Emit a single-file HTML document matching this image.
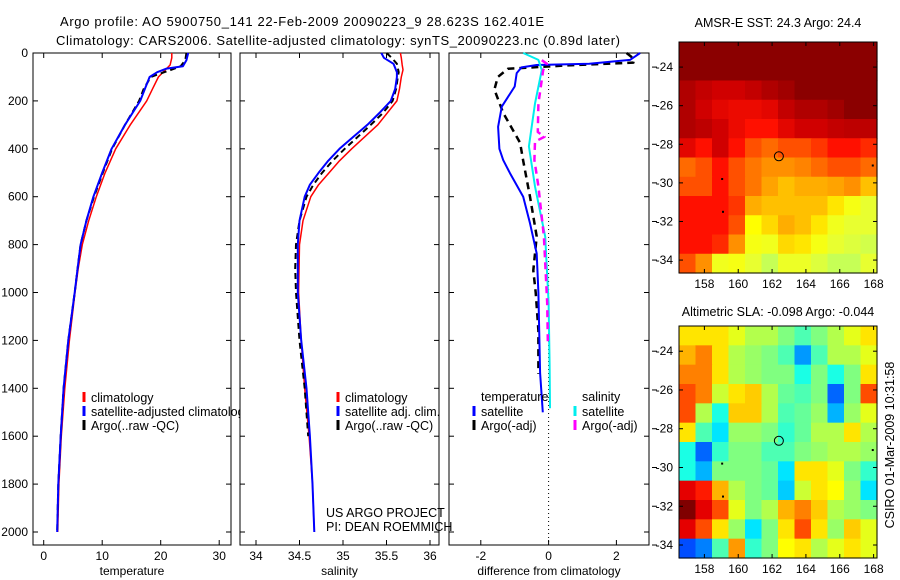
<!DOCTYPE html>
<html><head><meta charset="utf-8"><title>Argo profile</title>
<style>
html,body{margin:0;padding:0;background:#fff;}
svg{display:block;font-family:"Liberation Sans",sans-serif;}
text{font-family:"Liberation Sans",sans-serif;fill:#000;}
</style></head>
<body>
<svg id="fig" width="900" height="580" viewBox="0 0 900 580" xmlns="http://www.w3.org/2000/svg">
<rect x="0" y="0" width="900" height="580" fill="#fff"/>
<text x="60" y="26" font-size="13" textLength="484">Argo profile: AO 5900750_141 22-Feb-2009 20090223_9 28.623S 162.401E</text>
<text x="56" y="45" font-size="13" textLength="564">Climatology: CARS2006. Satellite-adjusted climatology: synTS_20090223.nc (0.89d later)</text>
<g id="layer"></g>
</svg>
<script>
// ---------- depth profile data ----------
var tClimDepth = [0,20,50,75,100,150,200,300,400,500,600,700,800,900,1000,1200,1400,1600,1800,2000];
var tClim      = [21.9,21.9,21.6,20.6,19.6,18.6,17.6,14.8,12.3,10.5,9.0,7.7,6.6,5.9,5.35,4.4,3.6,3.0,2.6,2.4];
var tSatDepth  = [0,30,55,65,80,100,150,200,300,400,500,600,700,800,900,1000,1200,1400,1600,1800,2000];
var tSat       = [24.7,24.4,23.8,21.0,19.4,18.1,17.3,16.5,13.9,11.6,10.0,8.5,7.3,6.3,5.8,5.3,4.2,3.4,2.9,2.5,2.3];
var tArgoDepth = [0,30,55,70,90,100,150,200,300,400,500,600,700,800,900,1000,1200,1400,1600,1800,2000];
var tArgo      = [24.4,24.2,23.4,21.8,19.4,18.3,17.1,16.3,13.9,11.7,10.1,8.6,7.3,6.3,5.8,5.3,4.2,3.4,2.9,2.5,2.3];

var sClimDepth = [0,20,50,70,100,150,200,300,400,450,500,550,600,700,800,1000,1200,1400,1600,1800,2000];
var sClim      = [35.66,35.67,35.68,35.69,35.67,35.65,35.62,35.40,35.10,34.96,34.84,34.72,34.63,34.54,34.50,34.49,34.52,34.56,34.61,34.65,34.67];
var sSatDepth  = [0,20,45,80,100,150,200,250,300,350,400,450,500,550,600,700,800,1000,1200,1400,1600,1800,2000];
var sSat       = [35.44,35.47,35.58,35.62,35.62,35.60,35.55,35.42,35.28,35.12,34.96,34.83,34.72,34.62,34.56,34.50,34.48,34.48,34.52,34.58,34.62,34.65,34.67];
var sArgoDepth = [0,20,45,80,100,150,200,250,300,350,400,450,500,550,600,700,800,900,1000,1200,1400,1600];
var sArgo      = [35.50,35.56,35.62,35.64,35.63,35.61,35.57,35.46,35.32,35.17,35.02,34.88,34.76,34.66,34.58,34.50,34.46,34.45,34.46,34.50,34.56,34.60];

var dTSatDepth = [0,29,45,50,60,84,140,224,308,400,447,502,600,711,837,1000,1200,1336,1500];
var dTSat      = [2.7,2.4,1.2,-0.35,-0.8,-0.94,-1.0,-1.38,-1.49,-1.45,-1.34,-1.14,-0.75,-0.55,-0.35,-0.3,-0.27,-0.25,-0.17];
var dTArgoDepth= [0,23,40,52,66,100,153,250,375,450,600,766,908,1000,1159,1340];
var dTArgo     = [2.3,2.5,2.5,0.5,-1.2,-1.5,-1.6,-1.34,-0.84,-0.75,-0.55,-0.35,-0.45,-0.38,-0.3,-0.3];
var dSSatDepth = [0,29,71,211,390,557,766,1044,1300,1483];
var dSSat      = [-0.75,-0.3,-0.2,-0.4,-0.58,-0.4,-0.1,0.0,0.03,0.04];
var dSArgoDepth= [30,45,71,211,330,350,370,447,557,766,1044,1220];
var dSArgo     = [-0.2,-0.05,-0.16,-0.3,-0.32,-0.12,-0.4,-0.42,-0.3,-0.14,-0.04,-0.02];

var depthTicks = [0,200,400,600,800,1000,1200,1400,1600,1800,2000];
var tTicks = [0,10,20,30];
var sTicks = [34,34.5,35,35.5,36];
var sTickLabels = ["34","34.5","35","35.5","36"];
var dTicks = [-2,0,2];

// ---------- map data ----------
var lonTicks = [158,160,162,164,166,168];
var latTicks = [-24,-26,-28,-30,-32,-34];
// SST level grid (rows lat -23..-34, cols lon 157..168); higher = hotter colour
var sstGrid = [
 [5,5,5,5,5,5,5,5,5,5,5,5],
 [5,5,5,5,5,5,5,5,5,5,5,5],
 [4.5,4.2,4,4,4.2,4.5,4.7,5,5,5,5,5],
 [4.5,4,3.8,3.7,3.7,3.8,4.2,4.5,4.5,4.7,5,5],
 [4.5,4.3,4,3.7,3.5,3.5,3.8,4,4,4.2,4.3,4.3],
 [3.8,3.5,4,3.5,3,2.8,3,3,3.2,3.5,3.5,3.3],
 [2.8,3,3.5,3,2.7,2.5,2.5,2.6,2.8,3,3,2.8],
 [3,3,3.5,3,2.7,2.3,2,2.2,2.2,2.3,2.5,2],
 [3.5,3.5,3.5,3.2,2.2,2,2,2,2,1.7,1.3,1],
 [3.5,3.5,3.5,3,1.5,1.8,2.2,2,1.7,1.2,1,1],
 [3.5,3.5,3.3,2.5,1.3,1.2,1.8,1.7,1.3,1,0.9,0.8],
 [3,2.5,1.2,1.3,1,0.7,1.1,1.1,0.9,0.7,0.7,1]
];
var slaGrid = [
 [0.3,0.3,0.3,0.2,0.1,0.1,0,-0.1,0,0.1,0.2,0.3],
 [0.4,0.5,0.3,0.1,0.05,0,-0.1,-0.45,-0.1,0.1,0.1,0.2],
 [0.5,0.5,0.3,0.1,0.05,0,0,-0.2,0,-0.2,0,0.3],
 [0.6,0.5,0.15,0.3,0.35,0.1,-0.05,-0.1,0,-0.55,0,0.6],
 [0.6,0.1,-0.2,0.35,0.35,0.1,-0.1,-0.05,0.05,-0.4,0.05,0.2],
 [0.3,-0.1,-0.3,0.05,0.05,0,-0.15,-0.05,0.1,0.1,0.3,0.1],
 [-0.2,-0.55,-0.15,0,0,-0.1,-0.1,0,0.05,0.1,0.1,0.05],
 [-0.2,-0.4,0,0,0,-0.05,-0.3,0.3,0.3,0.2,0,-0.15],
 [0.8,0.7,0.4,0.1,0,-0.05,-0.35,0.15,0.3,0.25,0.05,-0.3],
 [1,0.8,0.6,0.2,0,0.1,0.4,0.5,0.35,0.1,0.05,0],
 [0.8,0.6,0.3,0.05,-0.3,0,0.3,0.6,0.3,0.05,0.35,0.2],
 [-0.6,-0.5,-0.1,0.45,-0.15,0,0.25,0.3,0.1,0.2,0.3,0.2]
];
var argoLon = 162.401, argoLat = -28.623;

var NS = "http://www.w3.org/2000/svg";
var layer = document.getElementById("layer");
function mk(tag, attrs, parent){
  var e = document.createElementNS(NS, tag);
  for (var k in attrs) e.setAttribute(k, attrs[k]);
  (parent||layer).appendChild(e);
  return e;
}
var Y0 = 53, YS = 0.2395, PB = 545;
function yD(d){ return Y0 + d*YS; }
function xT(v){ return 43.7 + v*5.85; }
function xS(v){ return 256 + (v-34)*87; }
function xDf(v){ return 548.6 + v*33.9; }
var panels = [
 {name:"temperature", x0:33, x1:231, fx:xT, ticks:tTicks, labels:tTicks.map(String), xlabel:"temperature"},
 {name:"salinity", x0:240, x1:439, fx:xS, ticks:sTicks, labels:sTickLabels, xlabel:"salinity"},
 {name:"difference", x0:449, x1:649, fx:xDf, ticks:dTicks, labels:dTicks.map(String), xlabel:"difference from climatology"}
];
function linePath(depths, vals, fx){
  var s = "";
  for (var i=0;i<depths.length;i++) s += (i?"L":"M") + fx(vals[i]).toFixed(1) + "," + yD(depths[i]).toFixed(1);
  return s;
}
panels.forEach(function(p, pi){
  var g = mk("g", {});
  
  
  var r = mk("rect", {x:p.x0, y:Y0, width:p.x1-p.x0, height:PB-Y0, fill:"#fff", stroke:"#000", "stroke-width":1}, g);
  
  
  p.ticks.forEach(function(t, i){
    var x = p.fx(t);
    mk("line", {x1:x, x2:x, y1:Y0, y2:Y0+5, stroke:"#000"}, g);
    mk("line", {x1:x, x2:x, y1:PB, y2:PB-5, stroke:"#000"}, g);
    var tx = mk("text", {x:x, y:PB+15, "font-size":12, "text-anchor":"middle"}, g);
    tx.textContent = p.labels[i];
    
    
  });
  depthTicks.forEach(function(d){
    var y = yD(d);
    mk("line", {x1:p.x0, x2:p.x0+5, y1:y, y2:y, stroke:"#000"}, g);
    mk("line", {x1:p.x1, x2:p.x1-5, y1:y, y2:y, stroke:"#000"}, g);
    if (pi===0){
      var ty = mk("text", {x:28, y:y+4, "font-size":12, "text-anchor":"end"}, g);
      ty.textContent = String(d);
      
      
    }
  });
  var xl = mk("text", {x:(p.x0+p.x1)/2, y:575, "font-size":12, "text-anchor":"middle"}, g);
  xl.textContent = p.xlabel;
  
  
  p.g = g;
});
function series(g, name, depths, vals, fx, color, width, dash){
  var a = {d:linePath(depths, vals, fx), fill:"none", stroke:color, "stroke-width":width, "stroke-linejoin":"round"};
  if (dash) a["stroke-dasharray"] = dash;
  var e = mk("path", a, g);
  
  
}
function legend(g, x, y, color, label, name){
  var m = mk("rect", {x:x-1.5, y:y-6, width:3, height:10, fill:color}, g);
  
  
  var t = mk("text", {x:x+7, y:y+4, "font-size":12.5}, g);
  t.textContent = label;
  
  
}
var g1 = panels[0].g;
series(g1, 'temp-climatology-line', tClimDepth, tClim, xT, "#ff0000", 1.5);
series(g1, 'temp-argo-line', tArgoDepth, tArgo, xT, "#000", 2, "6,4");
series(g1, 'temp-satellite-line', tSatDepth, tSat, xT, "#0000ff", 2);
legend(g1, 84, 398, "#ff0000", "climatology", 'legend-climatology');
legend(g1, 84, 412, "#0000ff", "satellite-adjusted climatology", 'legend-satellite-adjusted');
legend(g1, 84, 426, "#000", "Argo(..raw -QC)", 'legend-argo');
var g2 = panels[1].g;
series(g2, 'sal-climatology-line', sClimDepth, sClim, xS, "#ff0000", 1.5);
series(g2, 'sal-argo-line', sArgoDepth, sArgo, xS, "#000", 2, "6,4");
series(g2, 'sal-satellite-line', sSatDepth, sSat, xS, "#0000ff", 2);
legend(g2, 338, 398, "#ff0000", "climatology", 'sal-legend-climatology');
legend(g2, 338, 412, "#0000ff", "satellite adj. clim.", 'sal-legend-satellite');
legend(g2, 338, 426, "#000", "Argo(..raw -QC)", 'sal-legend-argo');
var g3 = panels[2].g;
var zl = mk("line", {x1:xDf(0), x2:xDf(0), y1:Y0, y2:PB, stroke:"#000", "stroke-width":1, "stroke-dasharray":"1,3"}, g3);


series(g3, 'diff-temp-argo-line', dTArgoDepth, dTArgo, xDf, "#000", 2.5, "7,5");
series(g3, 'diff-temp-satellite-line', dTSatDepth, dTSat, xDf, "#0000ff", 2);
series(g3, 'diff-sal-satellite-line', dSSatDepth, dSSat, xDf, "#00eeee", 2);
series(g3, 'diff-sal-argo-line', dSArgoDepth, dSArgo, xDf, "#ff00ff", 2.5, "7,5");
var lt = mk("text", {x:481, y:401, "font-size":12.5}, g3); lt.textContent = "temperature";


var ls = mk("text", {x:582, y:401, "font-size":12.5}, g3); ls.textContent = "salinity";


legend(g3, 474, 412, "#0000ff", "satellite", 'diff-legend-temp-satellite');
legend(g3, 474, 426, "#000", "Argo(-adj)", 'diff-legend-temp-argo');
legend(g3, 575, 412, "#00eeee", "satellite", 'diff-legend-sal-satellite');
legend(g3, 575, 426, "#ff00ff", "Argo(-adj)", 'diff-legend-sal-argo');

var c1 = mk("text", {x:326, y:517, "font-size":12.5}); c1.textContent = "US ARGO PROJECT";


var c2 = mk("text", {x:326, y:531, "font-size":12.5}); c2.textContent = "PI: DEAN ROEMMICH";



// ---------- maps ----------
function lerp(a,b,t){return a+(b-a)*t;}
var sstStops = [[0.5,[176,255,112]],[1,[232,255,48]],[1.5,[255,255,0]],[2,[255,192,0]],[2.5,[255,144,0]],[3,[255,80,0]],[3.5,[255,16,0]],[4,[208,0,0]],[4.5,[176,0,0]],[5,[139,0,0]]];
function sstColor(v){
  for (var i=1;i<sstStops.length;i++){
    if (v<=sstStops[i][0]){
      var a=sstStops[i-1], b=sstStops[i], t=(v-a[0])/(b[0]-a[0]); if(t<0)t=0;
      return "rgb("+[0,1,2].map(function(k){return Math.round(lerp(a[1][k],b[1][k],t));}).join(",")+")";
    }
  }
  return "rgb(139,0,0)";
}
function cl(x){return Math.max(0,Math.min(1,x));}
function jet(v){
  var t=(v+1)/2;
  var r=cl(1.5-Math.abs(4*t-3)), g=cl(1.5-Math.abs(4*t-2)), b=cl(1.5-Math.abs(4*t-1));
  return "rgb("+Math.round(r*255)+","+Math.round(g*255)+","+Math.round(b*255)+")";
}
function drawMap(name, top, bottom, grid, colorFn, title, titleY){
  var L=679, R=877, lon0=156.5, lon1=168.2, lat0=-22.7, lat1=-34.67;
  var g = mk("g", {});
  
  
  function mx(lon){return L+(lon-lon0)/(lon1-lon0)*(R-L);}
  function my(lat){return top+(lat-lat0)/(lat1-lat0)*(bottom-top);}
  var nr=grid.length, nc=grid[0].length;
  var dlon=(lon1-lon0)/nc, dlat=(lat1-lat0)/nr;
  for (var i=0;i<nr;i++) for (var j=0;j<nc;j++){
    var x0=mx(lon0+j*dlon), x1=mx(lon0+(j+1)*dlon), y0=my(lat0+i*dlat), y1=my(lat0+(i+1)*dlat);
    var c = mk("rect", {x:x0.toFixed(2), y:y0.toFixed(2), width:(x1-x0+0.6).toFixed(2), height:(y1-y0+0.6).toFixed(2), fill:colorFn(grid[i][j])}, g);
    
    
  }
  var fr = mk("rect", {x:L, y:top, width:R-L, height:bottom-top, fill:"none", stroke:"#000", "stroke-width":1}, g);
  
  
  lonTicks.forEach(function(lo){
    var x=mx(lo);
    mk("line",{x1:x,x2:x,y1:top,y2:top+4,stroke:"#000"},g);
    mk("line",{x1:x,x2:x,y1:bottom,y2:bottom-4,stroke:"#000"},g);
    var t=mk("text",{x:x,y:bottom+15,"font-size":12,"text-anchor":"middle"},g); t.textContent=String(lo);
    
    
  });
  latTicks.forEach(function(la){
    var y=my(la);
    mk("line",{x1:L,x2:L+4,y1:y,y2:y,stroke:"#000"},g);
    mk("line",{x1:R,x2:R-4,y1:y,y2:y,stroke:"#000"},g);
    mk("line",{x1:652,x2:657,y1:y,y2:y,stroke:"#000"},g);
    var t=mk("text",{x:673,y:y+4,"font-size":12,"text-anchor":"end"},g); t.textContent=String(la);
    
    
  });
  var ci = mk("circle",{cx:mx(argoLon),cy:my(argoLat),r:4.5,fill:"none",stroke:"#000","stroke-width":1},g);
  
  
  [[159.05,-29.8],[159.1,-31.5],[167.95,-29.1]].forEach(function(p){
    var d = mk("rect",{x:mx(p[0])-1,y:my(p[1])-1,width:2,height:2,fill:"#000"},g);
    
    
  });
  var tt = mk("text",{x:(L+R)/2,y:titleY,"font-size":12.5,"text-anchor":"middle"},g); tt.textContent=title;
  
  
}
drawMap('sst-map', 42, 273, sstGrid, sstColor, "AMSR-E SST: 24.3 Argo: 24.4", 27);
drawMap('sla-map', 326, 558, slaGrid, jet, "Altimetric SLA: -0.098 Argo: -0.044", 316);
var cs = mk("text", {x:0, y:0, "font-size":12.5, "text-anchor":"middle", transform:"translate(894,445) rotate(-90)"});
cs.textContent = "CSIRO 01-Mar-2009 10:31:58";


</script>
</body></html>
